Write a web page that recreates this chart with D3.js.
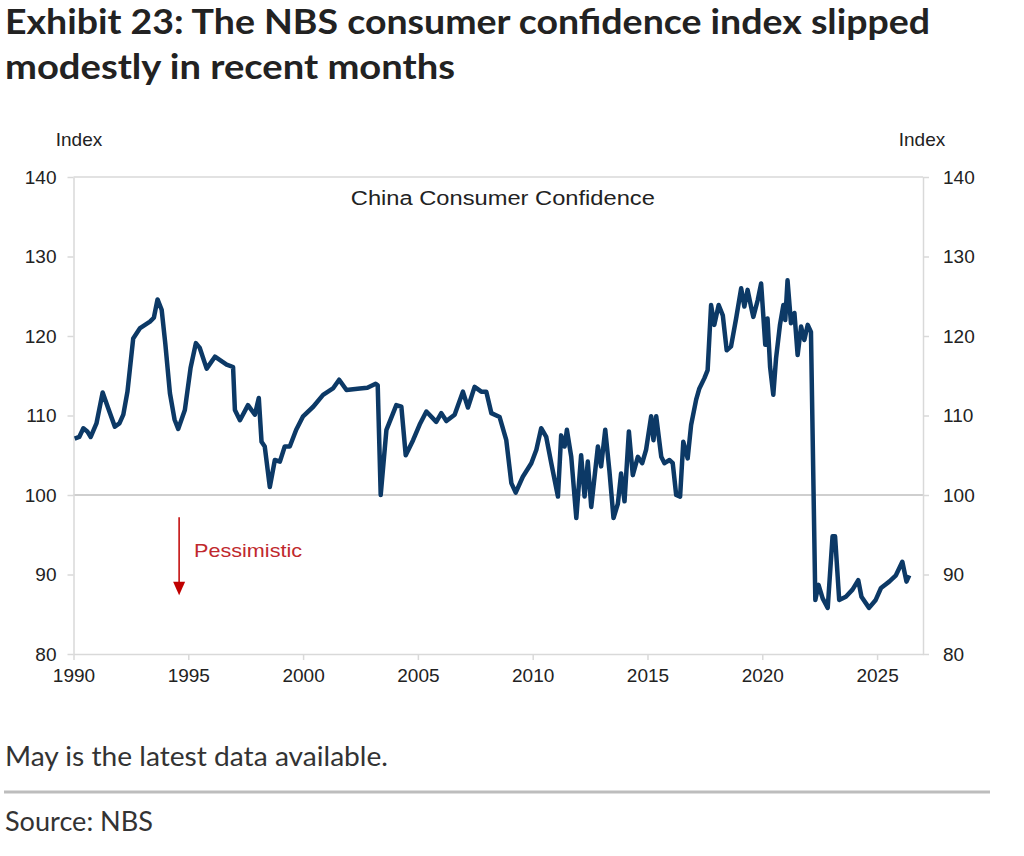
<!DOCTYPE html>
<html>
<head>
<meta charset="utf-8">
<script src="https://cdn.jsdelivr.net/npm/d3@7"></script>
<style>
  body { margin: 0; background: #fff; }
  svg text { font-family: "Liberation Sans", Arial, sans-serif; }
  .title { font-family: Lato, "Open Sans", sans-serif; font-weight: 700; fill: #222; }
  .note { font-family: Lato, "Open Sans", sans-serif; fill: #333; }
</style>
</head>
<body>
<div class="chart"></div>
<script>
// Chart data (decimal year, index value)
var years = [
  1990.05, 1990.25, 1990.43, 1990.6, 1990.75, 1991.0, 1991.27, 1991.5, 1991.8, 1992.0,
  1992.17, 1992.35, 1992.6, 1992.9, 1993.33, 1993.5, 1993.66, 1993.84, 1994.0, 1994.2,
  1994.4, 1994.56, 1994.85, 1995.1, 1995.33, 1995.5, 1995.8, 1996.16, 1996.67, 1996.95,
  1997.03, 1997.25, 1997.6, 1997.9, 1998.07, 1998.19, 1998.33, 1998.55, 1998.77, 1998.99,
  1999.2, 1999.42, 1999.7, 2000.0, 2000.44, 2000.87, 2001.3, 2001.57, 2001.89, 2002.47,
  2002.8, 2003.16, 2003.25, 2003.38, 2003.63, 2004.06, 2004.28, 2004.47, 2004.79, 2005.1,
  2005.37, 2005.8, 2006.02, 2006.24, 2006.6, 2006.96, 2007.18, 2007.47, 2007.76, 2007.98,
  2008.2, 2008.56, 2008.85, 2009.07, 2009.26, 2009.57, 2009.94, 2010.16, 2010.37, 2010.59,
  2010.81, 2011.1, 2011.24, 2011.39, 2011.49, 2011.68, 2011.9, 2012.11, 2012.26, 2012.4,
  2012.55, 2012.84, 2012.98, 2013.16, 2013.34, 2013.52, 2013.71, 2013.85, 2014.0, 2014.19,
  2014.36, 2014.58, 2014.77, 2014.94, 2015.16, 2015.26, 2015.38, 2015.6, 2015.74, 2015.96,
  2016.1, 2016.25, 2016.42, 2016.56, 2016.75, 2016.9, 2017.12, 2017.26, 2017.48, 2017.62,
  2017.77, 2017.91, 2018.1, 2018.28, 2018.45, 2018.64, 2018.86, 2019.08, 2019.22, 2019.36,
  2019.51, 2019.61, 2019.8, 2019.95, 2020.13, 2020.23, 2020.34, 2020.48, 2020.6, 2020.77,
  2020.92, 2021.0, 2021.1, 2021.25, 2021.4, 2021.54, 2021.69, 2021.83, 2021.98, 2022.12,
  2022.31, 2022.45, 2022.63, 2022.85, 2023.06, 2023.17, 2023.35, 2023.64, 2023.93, 2024.18,
  2024.32, 2024.65, 2024.94, 2025.17, 2025.53, 2025.82, 2026.1, 2026.28, 2026.4
];
var cci = [
  107.1, 107.3, 108.4, 108.0, 107.3, 109.0, 112.9, 111.0, 108.6, 109.0,
  110.1, 113.0, 119.7, 121.0, 121.8, 122.3, 124.6, 123.3, 119.0, 112.8,
  109.5, 108.3, 110.7, 116.0, 119.1, 118.5, 115.9, 117.4, 116.4, 116.1,
  110.7, 109.4, 111.3, 110.1, 112.2, 106.7, 106.1, 101.0, 104.4, 104.2,
  106.1, 106.1, 108.2, 109.9, 111.1, 112.6, 113.4, 114.5, 113.2, 113.4,
  113.5, 114.0, 113.8, 100.0, 108.2, 111.3, 111.1, 105.0, 106.9, 109.0,
  110.5, 109.2, 110.3, 109.3, 110.1, 113.0, 111.0, 113.6, 113.0, 113.0,
  110.3, 109.8, 106.9, 101.5, 100.3, 102.3, 104.0, 105.7, 108.4, 107.3,
  104.0, 99.8, 107.5, 106.1, 108.2, 104.8, 97.1, 105.0, 99.8, 104.2,
  98.5, 106.1, 103.6, 108.2, 103.1, 97.1, 98.9, 102.7, 99.2, 108.0,
  102.5, 104.8, 104.0, 105.7, 109.9, 106.9, 109.9, 104.8, 104.0, 104.4,
  104.0, 100.0, 99.8, 106.7, 104.6, 108.8, 112.0, 113.4, 114.7, 115.7,
  123.9, 121.4, 123.9, 122.6, 118.2, 118.7, 122.2, 126.0, 123.7, 125.8,
  123.7, 122.4, 124.5, 126.6, 118.9, 122.2, 116.1, 112.6, 117.2, 121.4,
  123.9, 122.0, 127.0, 121.6, 122.9, 117.6, 121.2, 119.5, 121.4, 120.5,
  86.8, 88.7, 87.0, 85.8, 94.8, 94.8, 86.8, 87.2, 88.1, 89.3,
  87.2, 85.8, 86.8, 88.3, 89.1, 89.9, 91.6, 89.1, 89.9
];
var xTicks = [1990, 1995, 2000, 2005, 2010, 2015, 2020, 2025];
var yTicks = [80, 90, 100, 110, 120, 130, 140];

var svgWidth = 1024;
var svgHeight = 856;

// plot box in page pixels
var margin = { top: 177, right: 101, bottom: 202, left: 73.5 };
var width = svgWidth - margin.left - margin.right;
var height = svgHeight - margin.top - margin.bottom;

var svg = d3.select(".chart")
  .append("svg")
  .attr("width", svgWidth)
  .attr("height", svgHeight);

// Title
svg.append("text").attr("class", "title")
  .attr("x", 5).attr("y", 34)
  .attr("font-size", 35)
  .attr("textLength", 925).attr("lengthAdjust", "spacingAndGlyphs")
  .text("Exhibit 23: The NBS consumer confidence index slipped");
svg.append("text").attr("class", "title")
  .attr("x", 5).attr("y", 79)
  .attr("font-size", 35)
  .attr("textLength", 450).attr("lengthAdjust", "spacingAndGlyphs")
  .text("modestly in recent months");

var chartGroup = svg.append("g")
  .attr("transform", `translate(${margin.left}, ${margin.top})`);

var xScale = d3.scaleLinear()
  .domain([1990, 2027])
  .range([0, width]);

var yScale = d3.scaleLinear()
  .domain([80, 140])
  .range([height, 0]);

// top frame line and the 100 gridline
chartGroup.append("line")
  .attr("x1", 0).attr("x2", width)
  .attr("y1", yScale(140)).attr("y2", yScale(140))
  .attr("stroke", "#d9d9d9").attr("stroke-width", 1.5);
chartGroup.append("line")
  .attr("x1", 0).attr("x2", width)
  .attr("y1", yScale(100)).attr("y2", yScale(100))
  .attr("stroke", "#bfbfbf").attr("stroke-width", 1.3);

// Axes
var bottomAxis = d3.axisBottom(xScale).tickValues(xTicks).tickFormat(d3.format("d"))
  .tickSizeInner(6).tickSizeOuter(0).tickPadding(9);
var leftAxis = d3.axisLeft(yScale).tickValues(yTicks)
  .tickSizeInner(6).tickSizeOuter(0).tickPadding(11);
var rightAxis = d3.axisRight(yScale).tickValues(yTicks)
  .tickSizeInner(6).tickSizeOuter(0).tickPadding(14);

var xAxis = chartGroup.append("g")
  .attr("transform", `translate(0, ${height})`)
  .call(bottomAxis);
var yAxisL = chartGroup.append("g").call(leftAxis);
var yAxisR = chartGroup.append("g")
  .attr("transform", `translate(${width}, 0)`)
  .call(rightAxis);

[xAxis, yAxisL, yAxisR].forEach(function(ax) {
  ax.selectAll("path, line").attr("stroke", "#d9d9d9").attr("stroke-width", 1.5);
  ax.selectAll("text")
    .attr("fill", "#222")
    .style("font-family", '"Liberation Sans", Arial, sans-serif')
    .style("font-size", "19px");
});

// axis titles
svg.append("text")
  .attr("x", 79).attr("y", 146)
  .attr("text-anchor", "middle")
  .attr("font-size", 19).attr("fill", "#222")
  .text("Index");
svg.append("text")
  .attr("x", 922).attr("y", 146)
  .attr("text-anchor", "middle")
  .attr("font-size", 19).attr("fill", "#222")
  .text("Index");

// chart label
chartGroup.append("text")
  .attr("x", xScale(2008.7)).attr("y", yScale(136.5))
  .attr("text-anchor", "middle")
  .attr("font-size", 20).attr("fill", "#222")
  .attr("textLength", 304).attr("lengthAdjust", "spacingAndGlyphs")
  .text("China Consumer Confidence");

// Pessimistic arrow
var red = "#c00000";
chartGroup.append("line")
  .attr("x1", xScale(1994.6)).attr("x2", xScale(1994.6))
  .attr("y1", yScale(97.2)).attr("y2", yScale(88.8))
  .attr("stroke", red).attr("stroke-width", 1.5);
chartGroup.append("path")
  .attr("d", `M${xScale(1994.6) - 6},${yScale(89.1)} L${xScale(1994.6) + 6},${yScale(89.1)} L${xScale(1994.6)},${yScale(87.4)} Z`)
  .attr("fill", red);
chartGroup.append("text")
  .attr("x", xScale(1995.25)).attr("y", yScale(92.2))
  .attr("font-size", 19).attr("fill", "#c0282d")
  .attr("textLength", 108).attr("lengthAdjust", "spacingAndGlyphs")
  .text("Pessimistic");

// the line
var points = years.map(function(y, i) { return { year: y, value: cci[i] }; });
var line = d3.line()
  .x(d => xScale(d.year))
  .y(d => yScale(d.value));

chartGroup.append("path")
  .datum(points)
  .attr("d", line)
  .attr("fill", "none")
  .attr("stroke", "#0c3966")
  .attr("stroke-width", 4.5)
  .attr("stroke-linejoin", "round");

// footer
svg.append("text").attr("class", "note")
  .attr("x", 5).attr("y", 766)
  .attr("font-size", 26)
  .attr("textLength", 383).attr("lengthAdjust", "spacingAndGlyphs")
  .text("May is the latest data available.");
svg.append("line")
  .attr("x1", 4).attr("x2", 990)
  .attr("y1", 792).attr("y2", 792)
  .attr("stroke", "#bdbdbd").attr("stroke-width", 3);
svg.append("text").attr("class", "note")
  .attr("x", 5).attr("y", 831)
  .attr("font-size", 26)
  .attr("textLength", 148).attr("lengthAdjust", "spacingAndGlyphs")
  .text("Source: NBS");
</script>
</body>
</html>
